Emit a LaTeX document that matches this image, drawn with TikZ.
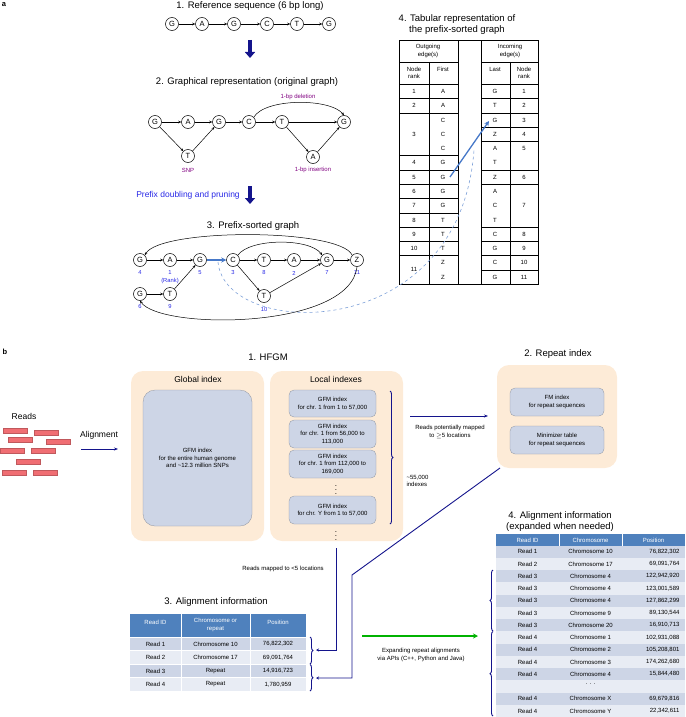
\documentclass[tikz,border=0pt]{standalone}
\usepackage{fontspec}
\setmainfont{Liberation Sans}
\usetikzlibrary{arrows.meta,decorations.pathreplacing}
\definecolor{navy}{RGB}{20,20,140}
\definecolor{peach}{RGB}{253,235,215}
\definecolor{gbox}{RGB}{205,213,230}
\definecolor{hdr}{RGB}{79,129,189}
\definecolor{rowa}{RGB}{205,213,230}
\definecolor{rowb}{RGB}{232,236,244}
\definecolor{rk}{RGB}{40,40,230}
\definecolor{purp}{RGB}{128,0,128}
\definecolor{dblue}{RGB}{70,120,200}
\definecolor{rred}{RGB}{240,110,115}
\begin{document}
\begin{tikzpicture}[x=1pt,y=-1pt,
 nd/.style={circle,draw,line width=0.5pt,minimum size=13pt,inner sep=0pt,font=\fontsize{7.5}{8}\selectfont},
 ed/.style={-{Stealth[length=3pt,width=2.5pt]},line width=0.5pt},
 rank/.style={font=\fontsize{5.8}{6}\selectfont,text=rk},
 ttl/.style={font=\fontsize{9.5}{11}\selectfont},
 sm/.style={font=\fontsize{6}{7.5}\selectfont,align=center},
 tb/.style={font=\fontsize{6}{7.5}\selectfont},
 bigarrow/.style={navy,line width=4pt,-{Triangle[length=6pt,width=10pt]}},
 peachbox/.style={fill=peach,rounded corners=12pt},
 gb/.style={fill=gbox,draw=gbox!70!black,line width=0.3pt,rounded corners=5pt,font=\fontsize{6}{7.5}\selectfont,align=center},
 nv/.style={navy,line width=0.9pt},
 dts/.style={inner sep=0pt,font=\fontsize{8}{8}\selectfont},
 brc/.style={navy,line width=0.9pt,decorate,decoration={brace,amplitude=3pt}}]
\useasboundingbox (0,0) rectangle (685,717);
\node[font=\bfseries\fontsize{7.5}{8}\selectfont] (la) at (4,5) {a};
\node[font=\bfseries\fontsize{7.5}{8}\selectfont] (lb) at (5,352) {b};
% a1
\node[ttl] (t1) at (250,6) {1. Reference sequence (6 bp long)};
\foreach \n/\x/\l in {r1/172/G,r2/202/A,r3/234/G,r4/267/C,r5/297/T,r6/329/G}
  \node[nd] (\n) at (\x,24) {\l};
\foreach \a/\b in {r1/r2,r2/r3,r3/r4,r4/r5,r5/r6} \draw[ed] (\a)--(\b);
\coordinate (ar1a) at (250,40); \coordinate (ar1b) at (250,58);
\draw[bigarrow] (ar1a)--(ar1b);
% a2
\node[ttl] (t2) at (247,82) {2. Graphical representation (original graph)};
\foreach \n/\x/\l in {g1/155/G,g2/188/A,g3/219/G,g4/249/C,g5/282/T,g6/344/G}
  \node[nd] (\n) at (\x,122) {\l};
\node[nd] (gt) at (188,156) {T};
\node[nd] (ga) at (313,157) {A};
\foreach \a/\b in {g1/g2,g2/g3,g3/g4,g4/g5,g5/g6,g1/gt,gt/g3,g5/ga,ga/g6} \draw[ed] (\a)--(\b);
\draw[ed] (g4.north east) .. controls (265,98) and (330,98) .. (g6.north);
\node[sm,text=purp] (del) at (298,97) {1-bp deletion};
\node[sm,text=purp] (snp) at (188,170) {SNP};
\node[sm,text=purp] (ins) at (313,170) {1-bp insertion};
\node[font=\fontsize{8.5}{10}\selectfont,text=rk] (pd) at (188,195) {Prefix doubling and pruning};
\coordinate (ar2a) at (250,186); \coordinate (ar2b) at (250,204);
\draw[bigarrow] (ar2a)--(ar2b);
% a3
\node[ttl] (t3) at (253,226) {3. Prefix-sorted graph};
\foreach \n/\x/\l/\r in {p4/140/G/4,p1/170/A/1,p5/200/G/5,p3/233/C/3,p8/264/T/8,p2/294/A/2,p7/327/G/7,p11/357/Z/11}
  {\node[nd] (\n) at (\x,260) {\l}; \node[rank] (rk\n) at (\x,273) {\r};}
\foreach \n/\x/\y/\l/\r in {p6/140/294/G/6,p9/170/294/T/9,p10/264/296/T/10}
  {\node[nd] (\n) at (\x,\y) {\l}; \node[rank] (rk\n) at (\x,\y+13) {\r};}
\node[rank] (rkl) at (170,281) {(Rank)};
\foreach \a/\b in {p4/p1,p1/p5,p3/p8,p8/p2,p2/p7,p7/p11,p3/p10,p10/p7,p6/p9,p9/p5} \draw[ed] (\a)--(\b);
\draw[-{Stealth[length=5pt,width=5pt]},line width=1.6pt,dblue] (p5)--(p3);
\draw[ed] (p11.north west) .. controls (340,228) and (160,228) .. (p4.north east);
\draw[ed] (p3.north east) .. controls (250,238) and (310,238) .. (p7.north west);
\draw[ed] (p11.south) .. controls (350,330) and (160,330) .. (p6.south);
% a4 table
\node[ttl,align=center] (t4) at (457,25) {4. Tabular representation of\\the prefix-sorted graph};
\begin{scope}[line width=0.5pt,every node/.style={tb,align=center}]
\draw (399,40) rectangle (458,284);
\draw (481,40) rectangle (538,284);
\draw (458,40)--(481,40); \draw (458,284)--(481,284);
\draw (429,62)--(429,284); \draw (510,62)--(510,284);
\foreach \y in {62,84,98,113,155,170,184,198,213,227,241,255} \draw (399,\y)--(458,\y);
\foreach \y in {62,84,98,113,127,141,170,184,227,241,255,270} \draw (481,\y)--(538,\y);
\node (h1) at (428,51) {Outgoing\\edge(s)};
\node (h2) at (510,51) {Incoming\\edge(s)};
\node (h3) at (414,73) {Node\\rank};
\node (h4) at (443,69) {First};
\node (h5) at (495,69) {Last};
\node (h6) at (524,73) {Node\\rank};
\foreach \r/\y in {1/91,2/105,3/134,4/162,5/177,6/191,7/205,8/220,9/234,10/248,11/269} \node at (414,\y) {\r};
\foreach \l/\y in {A/91,A/105,C/120,C/134,C/148,G/162,G/177,G/191,G/205,T/220,T/234,T/248,Z/262,Z/277} \node at (443,\y) {\l};
\foreach \l/\y in {G/91,T/105,G/120,Z/134,A/148,T/162,Z/177,A/191,C/205,T/220,C/234,G/248,C/262,G/277} \node at (495,\y) {\l};
\foreach \r/\y in {1/91,2/105,3/120,4/134,5/148,6/177,7/205,8/234,9/248,10/262,11/277} \node at (524,\y) {\r};
\end{scope}
\coordinate (tba) at (450,177); \coordinate (tbb) at (489,121);
\draw[-{Stealth[length=5pt,width=5pt]},line width=1.3pt,dblue] (tba)--(tbb);
\coordinate (dsa) at (218,262); \coordinate (dsb) at (474,150);
\draw[dashed,dblue!70,line width=0.6pt] (dsa) .. controls (225,340) and (460,345) .. (dsb);
% b
\node[ttl] (hf) at (268,357) {1. HFGM};
\fill[peachbox] (131,371) rectangle (264,541);
\fill[peachbox] (270,371) rectangle (403,541);
\node[font=\fontsize{8.5}{10}\selectfont] (gi) at (198,379) {Global index};
\node[font=\fontsize{8.5}{10}\selectfont] (li) at (336,379) {Local indexes};
\node[gb,minimum width=109pt,minimum height=136pt,rounded corners=12pt] (gg) at (197.5,458) {GFM index\\for the entire human genome\\and \textasciitilde12.3 million SNPs};
\node[gb,minimum width=87pt,minimum height=27pt] (l1) at (332.5,403.5) {GFM index\\for chr. 1 from 1 to 57,000};
\node[gb,minimum width=87pt,minimum height=28pt] (l2) at (332.5,434) {GFM index\\for chr. 1 from 56,000 to\\113,000};
\node[gb,minimum width=87pt,minimum height=28pt] (l3) at (332.5,464) {GFM index\\for chr. 1 from 112,000 to\\169,000};
\node[gb,minimum width=87pt,minimum height=28pt] (l4) at (332.5,510) {GFM index\\for chr. Y from 1 to 57,000};
\node[dts] (d1) at (336,487) {$\vdots$};
\node[dts] (d2) at (336,533) {$\vdots$};
\coordinate (bra) at (390,391); \coordinate (brb) at (390,524);
\draw[brc] (bra)--(brb);
\node[sm,align=left,anchor=west] (n55) at (403,481) {\textasciitilde55,000\\indexes};
\node[ttl] (ri) at (558,354) {2. Repeat index};
\fill[peachbox] (497,365) rectangle (617,468);
\node[gb,minimum width=94pt,minimum height=28pt] (fm) at (557,402) {FM index\\for repeat sequences};
\node[gb,minimum width=94pt,minimum height=28pt] (mt) at (557,440) {Minimizer table\\for repeat sequences};
\coordinate (rpa) at (410,416); \coordinate (rpb) at (488,416);
\draw[nv,-{Stealth[length=4pt,width=3pt]}] (rpa)--(rpb);
\node[sm] (rpt) at (450,432) {Reads potentially mapped\\to $\geq$5 locations};
\node[font=\fontsize{8.5}{10}\selectfont] (rd) at (24,416) {Reads};
\foreach \x/\y in {3/428,34/430,8/437,46/439,0/448,31/448,16/459,2/470,33/470}
  \draw[fill=rred,draw=rred!80!black,line width=0.3pt] (\x,\y) rectangle ++(24,5);
\node[font=\fontsize{8.5}{10}\selectfont] (al) at (99,435) {Alignment};
\coordinate (ala) at (81,449); \coordinate (alb) at (118,449);
\draw[nv,-{Stealth[length=4pt,width=3pt]}] (ala)--(alb);
% table 3
\node[ttl] (t3b) at (216,602) {3. Alignment information};
\begin{scope}[every node/.style={tb,align=center}]
\fill[hdr] (130,614) rectangle (306,637);
\foreach \i/\c in {0/rowa,1/rowb,2/rowa,3/rowb} \fill[\c] (130,637+13.5*\i) rectangle (306,650.5+13.5*\i);
\draw[white,line width=0.6pt] (181,614)--(181,691) (250,614)--(250,691);
\foreach \i in {1,2,3} \draw[white,line width=0.6pt] (130,637+13.5*\i)--(306,637+13.5*\i);
\draw[white,line width=0.8pt] (130,637)--(306,637);
\node[text=white] at (155.5,622) {Read ID};
\node[text=white] at (215.5,625) {Chromosome or\\repeat};
\node[text=white] at (278,622) {Position};
\foreach \i/\a/\b/\c in {0/Read 1/Chromosome 10/{76,822,302},1/Read 2/Chromosome 17/{69,091,764},2/Read 3/Repeat/{14,916,723},3/Read 4/Repeat/{1,780,959}}
  {\node at (155.5,644+13.5*\i) {\a}; \node at (215.5,644+13.5*\i) {\b}; \node at (278,644+13.5*\i) {\c};}
\end{scope}
\coordinate (b3a) at (310,637); \coordinate (b3b) at (310,664);
\coordinate (b3c) at (310,664.5); \coordinate (b3d) at (310,691);
\draw[brc] (b3a)--(b3b); \draw[brc] (b3c)--(b3d);
\coordinate (v1a) at (336,548); \coordinate (v1b) at (336,650); \coordinate (v1c) at (316,650);
\draw[nv,-{Stealth[length=3pt,width=3pt]}] (v1a)--(v1b)--(v1c);
\node[sm] (rm) at (283,569) {Reads mapped to <5 locations};
\coordinate (v2a) at (500,468); \coordinate (v2b) at (352,575); \coordinate (v2c) at (352,678); \coordinate (v2d) at (316,678);
\draw[nv,-{Stealth[length=3pt,width=3pt]}] (v2a)--(v2b)--(v2c)--(v2d);
\coordinate (gra) at (362,636); \coordinate (grb) at (478,636);
\draw[green!70!black,line width=1.2pt,-{Stealth[length=5pt,width=5pt]}] (gra)--(grb);
\node[sm] (exp) at (421,655) {Expanding repeat alignments\\via APIs (C++, Python and Java)};
% table 4
\node[ttl,align=center] (t4b) at (560,522) {4. Alignment information\\(expanded when needed)};
\begin{scope}[every node/.style={tb}]
\fill[hdr] (496,534) rectangle (685,545.5);
\foreach \i in {0,2,...,12} \fill[rowa] (496,545.5+12.25*\i) rectangle (685,557.75+12.25*\i);
\foreach \i in {1,3,...,13} \fill[rowb] (496,545.5+12.25*\i) rectangle (685,557.75+12.25*\i);
\draw[white,line width=0.6pt] (559,534)--(559,545.5) (622,534)--(622,545.5);
\node[text=white] at (527.5,540) {Read ID};
\node[text=white] at (590.5,540) {Chromosome};
\node[text=white] at (653.5,540) {Position};
\foreach \i/\a/\b/\c in {0/Read 1/Chromosome 10/{76,822,302},1/Read 2/Chromosome 17/{69,091,764},2/Read 3/Chromosome 4/{122,942,920},3/Read 3/Chromosome 4/{123,001,589},4/Read 3/Chromosome 4/{127,862,299},5/Read 3/Chromosome 9/{89,130,544},6/Read 3/Chromosome 20/{16,910,713},7/Read 4/Chromosome 1/{102,931,088},8/Read 4/Chromosome 2/{105,208,801},9/Read 4/Chromosome 3/{174,262,680},10/Read 4/Chromosome 4/{15,844,480},12/Read 4/Chromosome X/{69,679,816},13/Read 4/Chromosome Y/{22,342,611}}
  {\node at (527.5,551.6+12.25*\i) {\a}; \node at (590.5,551.6+12.25*\i) {\b}; \node[anchor=east] at (683,551.6+12.25*\i) {\c};}
\node at (590.5,549+12.25*11) {. . .};
\end{scope}
\coordinate (b4a) at (493,570); \coordinate (b4b) at (493,631);
\coordinate (b4c) at (493,631.5); \coordinate (b4d) at (493,716);
\draw[brc,decoration={brace,mirror,amplitude=3pt}] (b4a)--(b4b);
\draw[brc,decoration={brace,mirror,amplitude=3pt}] (b4c)--(b4d);
\end{tikzpicture}
\end{document}
